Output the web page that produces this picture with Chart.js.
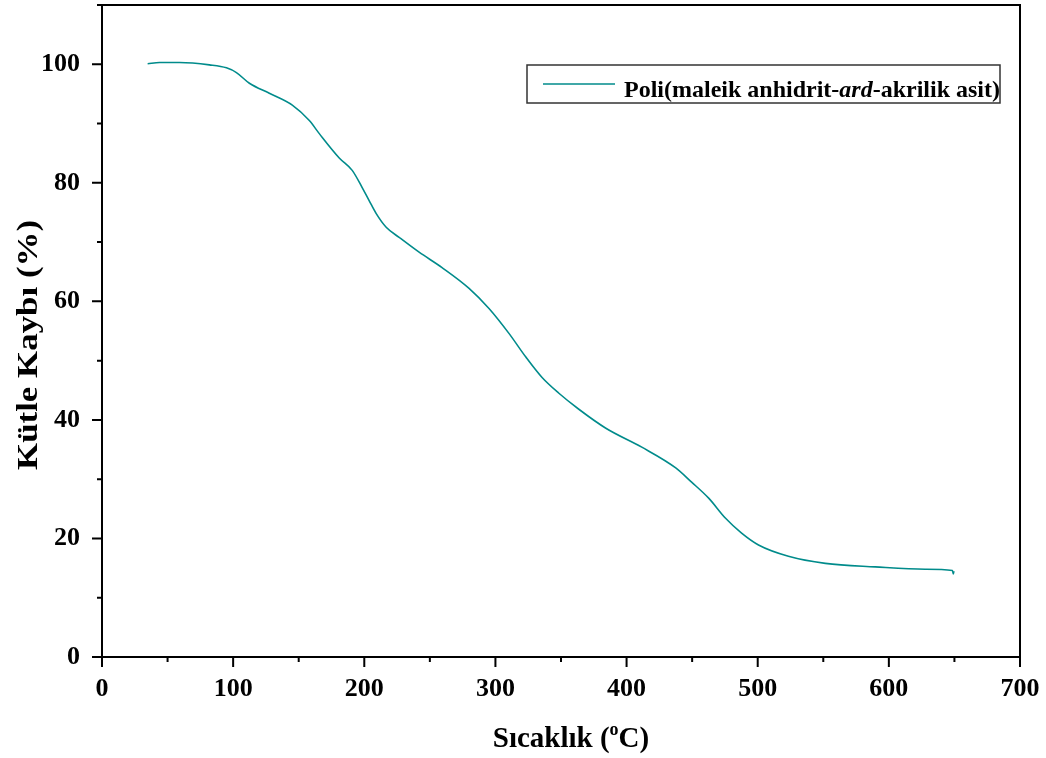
<!DOCTYPE html>
<html>
<head>
<meta charset="utf-8">
<script src="https://cdn.jsdelivr.net/npm/chart.js@4/dist/chart.umd.min.js"></script>
<style>
  html, body { margin: 0; padding: 0; background: #fff; }
  #wrap { width: 1046px; height: 758px; }
</style>
</head>
<body>
<div id="wrap"><canvas id="tga"></canvas></div>
<script>
// TGA curve
var temps = [34.8, 43.9, 59.1, 81.9, 94.9, 102.5, 112.4, 127.6, 145.1, 158.1, 165.7, 180.9, 190.8, 198.4, 203.7, 209.1, 216.7, 226.6, 241.8, 259.3, 279.9, 295.1, 310.3, 323.2, 335.4, 348.4, 363.6, 384.2, 411.6, 437.5, 449.6, 462.6, 475.5, 487.7, 500.6, 523.4, 551.6, 589.6, 627.7, 648.5, 649.2, 649.6];
var mass = [100.1, 100.3, 100.3, 99.9, 99.4, 98.6, 96.8, 95.1, 93.1, 90.5, 88.3, 84.2, 82.1, 79.2, 77.0, 74.8, 72.5, 70.8, 68.3, 65.7, 62.2, 58.8, 54.6, 50.6, 47.2, 44.5, 41.8, 38.6, 35.4, 31.9, 29.5, 26.8, 23.4, 20.9, 18.9, 17.0, 15.8, 15.2, 14.8, 14.6, 14.0, 14.5];
var xTicks = [0, 100, 200, 300, 400, 500, 600, 700];
var yTicks = [0, 20, 40, 60, 80, 100];
var seriesName = ['Poli(maleik anhidrit-', 'ard', '-akrilik asit)'];
var xTitle = ['Sıcaklık (', 'o', 'C)'];
var yTitle = 'Kütle Kaybı (%)';

var lineColour = '#008b8b';
var serif = '"Liberation Serif", "Times New Roman", serif';

(function () {
  "use strict";
  var points = temps.map(function (t, i) { return { x: t, y: mass[i] }; });

  // no extra room for overflowing tick labels, the frame is fixed
  function noPad(s) {
    s.paddingLeft = 0; s.paddingRight = 0; s.paddingTop = 0; s.paddingBottom = 0;
  }

  // frame, outward ticks (major + minor), titles and legend
  var decor = {
    id: 'decor',
    afterDraw: function (chart) {
      var ctx = chart.ctx, a = chart.chartArea, xs = chart.scales.x, ys = chart.scales.y, v, p, x0, len;
      ctx.save();
      ctx.strokeStyle = '#000';
      ctx.lineWidth = 2;
      ctx.strokeRect(a.left, a.top, a.right - a.left, a.bottom - a.top);
      ctx.beginPath();
      for (v = 0; v <= 700; v += 50) {
        p = xs.getPixelForValue(v);
        ctx.moveTo(p, a.bottom);
        ctx.lineTo(p, a.bottom + (v % 100 === 0 ? 10 : 5));
      }
      for (v = 0; v <= 110; v += 10) {
        p = ys.getPixelForValue(v);
        ctx.moveTo(a.left, p);
        ctx.lineTo(a.left - (v % 20 === 0 ? 10 : 5), p);
      }
      ctx.stroke();

      ctx.fillStyle = '#000';
      // y title, a little stretched along its length like the original
      ctx.save();
      ctx.translate(37, 345);
      ctx.rotate(-Math.PI / 2);
      ctx.font = 'bold 29px ' + serif;
      len = ctx.measureText(yTitle).width;
      ctx.scale(250 / len, 1);
      ctx.textAlign = 'center';
      ctx.textBaseline = 'alphabetic';
      ctx.fillText(yTitle, 0, 0);
      ctx.restore();

      // x title with superscript o
      ctx.textBaseline = 'alphabetic';
      ctx.textAlign = 'left';
      ctx.font = 'bold 29px ' + serif;
      var w1 = ctx.measureText(xTitle[0]).width, w3 = ctx.measureText(xTitle[2]).width;
      ctx.font = 'bold 18px ' + serif;
      var w2 = ctx.measureText(xTitle[1]).width;
      x0 = 571 - (w1 + w2 + w3) / 2;
      ctx.font = 'bold 29px ' + serif;
      ctx.fillText(xTitle[0], x0, 747);
      ctx.font = 'bold 18px ' + serif;
      ctx.fillText(xTitle[1], x0 + w1, 735);
      ctx.font = 'bold 29px ' + serif;
      ctx.fillText(xTitle[2], x0 + w1 + w2, 747);

      // legend box
      ctx.lineWidth = 1.5;
      ctx.strokeStyle = '#333';
      ctx.strokeRect(527, 65, 473, 38);
      ctx.strokeStyle = lineColour;
      ctx.lineWidth = 1.5;
      ctx.beginPath();
      ctx.moveTo(543, 84);
      ctx.lineTo(615, 84);
      ctx.stroke();
      x0 = 624;
      ctx.font = 'bold 24px ' + serif;
      ctx.fillText(seriesName[0], x0, 97);
      x0 += ctx.measureText(seriesName[0]).width;
      ctx.font = 'italic bold 24px ' + serif;
      ctx.fillText(seriesName[1], x0, 97);
      x0 += ctx.measureText(seriesName[1]).width;
      ctx.font = 'bold 24px ' + serif;
      ctx.fillText(seriesName[2], x0, 97);
      ctx.restore();
    }
  };

  new Chart(document.getElementById('tga'), {
    type: 'scatter',
    data: {
      datasets: [{
        label: seriesName.join(''),
        data: points,
        showLine: true,
        borderColor: lineColour,
        borderWidth: 1.6,
        pointRadius: 0,
        cubicInterpolationMode: 'monotone'
      }]
    },
    options: {
      responsive: true,
      maintainAspectRatio: false,
      animation: false,
      layout: { padding: { top: 5, right: 26, left: 0, bottom: 0 } },
      plugins: { legend: { display: false }, tooltip: { enabled: false } },
      scales: {
        x: {
          type: 'linear', min: 0, max: 700,
          afterBuildTicks: function (s) { s.ticks = xTicks.map(function (v) { return { value: v }; }); },
          afterFit: function (s) { s.height = 101; noPad(s); },
          grid: { display: false, drawTicks: false, tickLength: 0 },
          border: { display: false },
          ticks: { color: '#000', padding: 17, maxRotation: 0, font: { family: serif, size: 26, weight: 'bold' } }
        },
        y: {
          min: 0, max: 110,
          afterBuildTicks: function (s) { s.ticks = yTicks.map(function (v) { return { value: v }; }); },
          afterFit: function (s) { s.width = 102; noPad(s); },
          grid: { display: false, drawTicks: false, tickLength: 0 },
          border: { display: false },
          ticks: { color: '#000', padding: 22, font: { family: serif, size: 26, weight: 'bold' } }
        }
      }
    },
    plugins: [decor]
  });
})();
</script>
</body>
</html>
